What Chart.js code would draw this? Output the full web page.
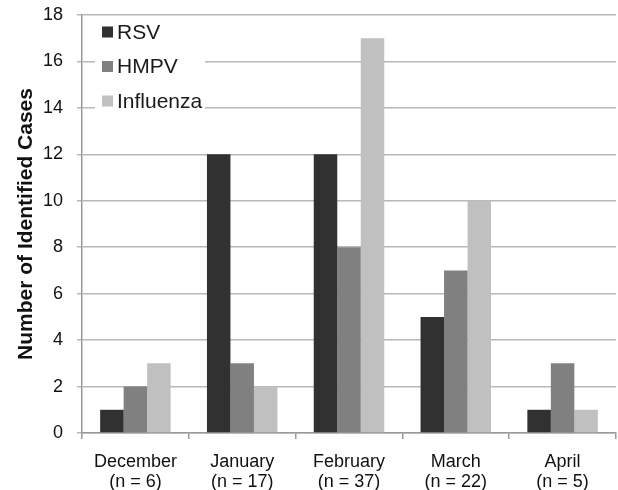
<!DOCTYPE html>
<html>
<head>
<meta charset="utf-8">
<script src="https://cdn.jsdelivr.net/npm/chart.js@4.4.0/dist/chart.umd.min.js"></script>
<style>
  html, body { margin: 0; padding: 0; background: #fff; }
</style>
</head>
<body>
<canvas id="chart" width="618" height="490"></canvas>
<script>
const months = ['December', 'January', 'February', 'March', 'April'];
const counts = ['(n = 6)', '(n = 17)', '(n = 37)', '(n = 22)', '(n = 5)'];
const rsv = [1, 12, 12, 5, 1];
const hmpv = [2, 3, 8, 7, 3];
const influenza = [3, 2, 17, 10, 1];

const FONT = '"Liberation Sans", Arial, sans-serif';

// legend drawn inside the plot with a white backing, like the original
const insideLegend = {
    id: 'insideLegend',
    afterDatasetsDraw(chart) {
        const ctx = chart.ctx;
        const area = chart.chartArea;
        const x = area.left + 13;
        const y0 = area.top + 3;
        ctx.save();
        ctx.fillStyle = '#ffffff';
        ctx.fillRect(x, y0, 110, 102);
        ctx.font = '21px ' + FONT;
        ctx.textBaseline = 'middle';
        chart.data.datasets.forEach((ds, i) => {
            const cy = y0 + 14 + i * 34.5;
            ctx.fillStyle = ds.backgroundColor;
            ctx.fillRect(x + 7, cy - 5.5, 11, 11);
            ctx.fillStyle = '#1a1a1a';
            ctx.fillText(ds.label, x + 22, cy + 1);
        });
        ctx.restore();
    }
};

new Chart(document.getElementById('chart').getContext('2d'), {
    type: 'bar',
    data: {
        labels: months.map((m, i) => [m, counts[i]]),
        datasets: [
            { label: 'RSV', data: rsv, backgroundColor: '#313131' },
            { label: 'HMPV', data: hmpv, backgroundColor: '#808080' },
            { label: 'Influenza', data: influenza, backgroundColor: '#c0c0c0' }
        ]
    },
    options: {
        responsive: false,
        devicePixelRatio: 1,
        animation: false,
        categoryPercentage: 0.66,
        barPercentage: 1,
        layout: { padding: { top: 15, right: 2, left: 0, bottom: 0 } },
        scales: {
            x: {
                grid: {
                    offset: true,
                    drawOnChartArea: false,
                    color: '#999999',
                    tickLength: 6,
                    lineWidth: 1.5
                },
                border: { color: '#999999', width: 1.5 },
                ticks: {
                    color: '#111111',
                    font: { family: FONT, size: 18, lineHeight: 1.1 },
                    padding: 13,
                    maxRotation: 0
                },
                afterFit(scale) {
                    scale.height = 57;
                    scale.paddingLeft = 0;
                    scale.paddingRight = 0;
                }
            },
            y: {
                min: 0,
                max: 18,
                ticks: {
                    stepSize: 2,
                    color: '#111111',
                    font: { family: FONT, size: 18 },
                    padding: 14
                },
                grid: {
                    color: '#b8b8b8',
                    lineWidth: 1.5,
                    tickLength: 5
                },
                border: { color: '#999999', width: 1.5 },
                title: {
                    display: true,
                    text: 'Number of Identified Cases',
                    color: '#111111',
                    font: { family: FONT, size: 21, weight: 'bold' },
                    padding: { top: 14, bottom: 0 }
                },
                afterFit(scale) {
                    scale.width = 82;
                    scale.paddingTop = 0;
                    scale.paddingBottom = 0;
                }
            }
        },
        plugins: {
            legend: { display: false },
            tooltip: { enabled: false }
        }
    },
    plugins: [insideLegend]
});
</script>
</body>
</html>
